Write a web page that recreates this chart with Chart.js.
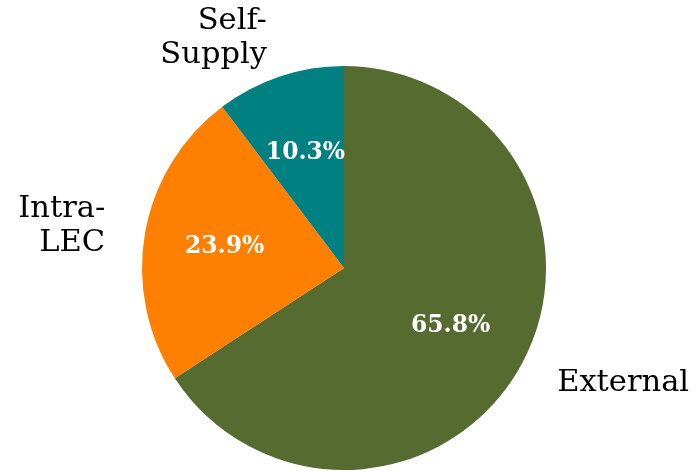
<!DOCTYPE html>
<html>
<head>
<meta charset="utf-8">
<script src="https://cdn.jsdelivr.net/npm/chart.js@4/dist/chart.umd.min.js"></script>
<style>
html,body{margin:0;padding:0;background:#fff;}
#wrap{width:697px;height:471px;}
</style>
</head>
<body>
<div id="wrap"><canvas id="c" width="697" height="471"></canvas></div>
<script>
const categories = ["External", "Intra-LEC", "Self-Supply"];
const labelLines = [["External"], ["Intra-", "LEC"], ["Self-", "Supply"]];
const shares = [65.8, 23.9, 10.3];
const colors = ["#556B2F", "#FF7F00", "#008080"];

const labelPlugin = {
  id: 'pieLabels',
  afterDatasetsDraw(chart) {
    const ctx = chart.ctx;
    const meta = chart.getDatasetMeta(0);
    const total = shares.reduce((a, b) => a + b, 0);
    meta.data.forEach((arc, i) => {
      const mid = (arc.startAngle + arc.endAngle) / 2;
      const r = arc.outerRadius;
      const cx = arc.x, cy = arc.y;
      // percentage
      ctx.save();
      ctx.fillStyle = '#ffffff';
      ctx.font = 'bold 23.4px "DejaVu Serif"';
      ctx.textAlign = 'center';
      ctx.textBaseline = 'middle';
      const pr = r * 0.6;
      const pct = (shares[i] / total * 100).toFixed(1) + '%';
      ctx.fillText(pct, cx + pr * Math.cos(mid), cy + pr * Math.sin(mid));
      // category label
      ctx.fillStyle = '#000000';
      ctx.font = '30.5px "DejaVu Serif"';
      const lr = r * 1.2;
      const lx = cx + lr * Math.cos(mid);
      const ly = cy + lr * Math.sin(mid);
      ctx.textAlign = Math.cos(mid) >= 0 ? 'left' : 'right';
      const lines = labelLines[i];
      const lh = 34;
      const y0 = ly - (lines.length - 1) * lh / 2;
      lines.forEach((t, k) => ctx.fillText(t, lx, y0 + k * lh));
      ctx.restore();
    });
  }
};

new Chart(document.getElementById('c'), {
  type: 'pie',
  data: {
    labels: categories,
    datasets: [{
      data: shares,
      backgroundColor: colors,
      borderWidth: 0,
      hoverOffset: 0
    }]
  },
  options: {
    responsive: false,
    animation: false,
    rotation: 0,
    layout: { padding: { left: 142, right: 151, top: 66, bottom: 1 } },
    plugins: {
      legend: { display: false },
      tooltip: { enabled: false }
    }
  },
  plugins: [labelPlugin]
});
</script>
</body>
</html>
